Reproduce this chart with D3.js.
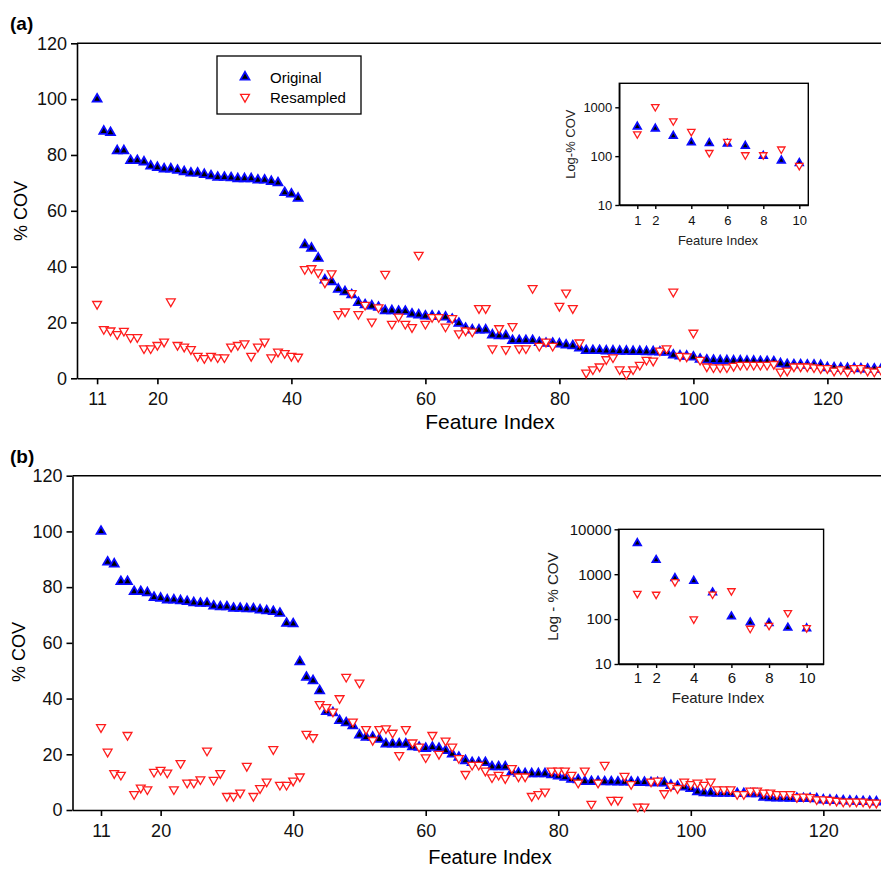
<!DOCTYPE html>
<html>
<head>
<meta charset="utf-8">
<script src="https://cdnjs.cloudflare.com/ajax/libs/d3/7.8.5/d3.min.js"></script>
<style>
  body { margin: 0; background: #fff; }
  svg { display: block; font-family: Arial, "Liberation Sans", sans-serif; }
</style>
</head>
<body>
<div id="chart"></div>
<script>
// feature index of every point in the main panels (features 1-10 are in the insets)
const features = d3.range(11, 129);

// panel (a)
const origA = [
  100, 88.5, 88, 81.5, 81.5, 78, 78, 77.5, 76, 75.5,
  75, 75, 74.5, 74, 73.5, 73.5, 73, 72.5, 72, 72,
  71.8, 71.5, 71.5, 71.5, 71, 71, 70.5, 70, 66.5, 66, 64.5,
  47.8, 46.6, 43.0, 35.2, 34.6, 31.9, 31, 29.9, 27.1, 26.3,
  25.9, 25.4, 24.2, 24.2, 24, 24, 23, 22.7, 22.3, 22.3,
  22.1, 21.9, 21.1, 19.7, 17.9, 17.3, 17.3, 17.3, 15.5, 15.2,
  15.2, 13.5, 13.5, 13.5, 13.5, 12.8, 12.5, 12.5, 12.3, 11.9,
  11.6, 10.8, 9.9, 9.9, 9.9,
  9.8, 9.8, 9.7, 9.7, 9.6, 9.6, 9.5, 9.5, 9.4, 9.3,
  8.3, 8.0, 7.9, 7.6, 6.8, 6.5, 6.4, 6.3, 6.3, 6.2,
  6.2, 6.1, 6.1, 6.0, 6.0, 5.9, 5.2, 4.9, 4.8, 4.8,
  4.7, 4.7, 4.6, 3.8, 3.7, 3.6, 3.5, 3.5, 3.4, 3.3, 3.3, 3.2
];
const resA = [
  26.6, 17.6, 17.1, 15.8, 17.0, 14.7, 14.7, 10.7, 10.7, 11.9,
  13.1, 27.5, 11.9, 11.3, 10.4, 8.0, 7.2, 8.0, 7.5, 7.5,
  11.3, 11.9, 12.5, 8.0, 11.3, 13.1, 7.5, 9.5, 9.0, 8.0, 7.7,
  39.1, 39.4, 37.9, 34.3, 37.6, 23.0, 23.9, 30.5, 23.0, 26.3,
  20.3, 25.4, 37.4, 19.5, 22.1, 19.5, 18.3, 44.2, 19.5, 21.9,
  21.9, 18.5, 21.5, 16.1, 17.1, 16.7, 25.1, 25.1, 10.7, 17.9,
  10.4, 18.7, 10.7, 10.7, 32.3, 11.6, 13.1, 11.6, 25.9, 30.7,
  25.1, 12.8, 2.0, 3.2, 4.2,
  6.8, 7.5, 3.2, 1.5, 3.2, 4.8, 6.6, 6.3, 9.9, 10.7,
  31.0, 8.0, 7.8, 16.3, 6.6, 4.2, 3.9, 3.9, 3.9, 4.4,
  4.8, 4.8, 4.8, 4.8, 4.8, 5.1, 2.4, 2.7, 4.2, 4.2,
  4.2, 3.9, 3.6, 3.6, 2.7, 3.2, 2.4, 3.6, 3.6, 2.7, 2.4, 3.0
];

// panel (b)
const origB = [
  100, 89, 88.3, 82, 82, 78.4, 78.4, 78, 76.3, 76,
  75.4, 75.4, 75.1, 74.8, 74.4, 74.2, 74.2, 73.2, 72.9, 72.9,
  72.4, 72.4, 72.2, 72.2, 71.8, 71.5, 71.2, 70.6, 67, 66.8, 53.2,
  47.6, 46.4, 42.8, 35.3, 34.9, 32.1, 31.3, 30.2, 26.9, 26.1,
  26.1, 25.4, 23.7, 23.7, 23.7, 23.7, 22.7, 22.5, 22.1, 22.5,
  22.1, 21.3, 20.1, 18.9, 17.7, 17, 17, 17, 15.5, 15.5,
  15.5, 13.7, 13.2, 13, 13, 13, 13, 12.6, 12.2, 11.7,
  11, 10.8, 10.2, 10.2, 10.2,
  10.1, 10.1, 10.0, 10.0, 10.0, 9.9, 9.9, 9.8, 9.8, 9.7,
  8.8, 8.5, 8.2, 7.7, 6.5, 6.2, 6.1, 6.0, 6.0, 6.0,
  5.9, 5.9, 5.8, 5.8, 4.6, 4.4, 4.3, 4.3, 4.2, 4.2,
  4.1, 4.1, 4.0, 3.6, 3.5, 3.4, 3.3, 3.2, 3.1, 3.0, 3.0, 2.9
];
const resB = [
  29.7, 20.9, 13.2, 12.6, 26.9, 5.7, 8.0, 7.4, 13.7, 14.4,
  13.4, 7.4, 16.8, 9.8, 9.8, 11.0, 21.3, 10.8, 13.2, 5.0,
  5.0, 6.2, 15.8, 5.0, 7.8, 10.2, 21.8, 9.0, 9.0, 10.5, 12.0,
  27.3, 26.1, 38, 36.9, 35.3, 40.1, 47.8, 31.7, 45.7, 29,
  25.1, 29, 29.3, 27.7, 19.7, 29, 24.2, 22.7, 18.9, 26.9,
  20.1, 24.9, 22.7, 18.6, 12.9, 16.2, 16.2, 14.1, 11.7, 12.6,
  11.4, 15, 12, 12, 5, 5.7, 6.6, 14.1, 14.1, 14.1,
  12.6, 9.8, 14.1, 2.2, 9.8,
  16.2, 3.6, 3.6, 12.2, 9.3, 1.2, 1.2, 10.2, 10.5, 6.0,
  8.6, 7.8, 10.2, 9.3, 9.8, 9.0, 10.2, 7.4, 7.4, 7.4,
  5.7, 5.7, 6.9, 6.9, 6.2, 6.2, 5.7, 5.7, 5.7, 4.6,
  4.8, 4.6, 3.8, 3.8, 3.6, 3.3, 3.0, 3.0, 3.0, 3.0, 2.6, 2.6
];

const mainXTicks = [11, 20, 40, 60, 80, 100, 120];
const mainYTicks = [0, 20, 40, 60, 80, 100, 120];

// insets: features 1-10 on a log scale
const insetIdx = [1, 2, 3, 4, 5, 6, 7, 8, 9, 10];
const insetOrigA = [402, 366, 260, 190, 184, 179, 162, 101, 81, 72];
const insetResA = [285, 1030, 525, 318, 118, 199, 106, 106, 139, 64];
const insetOrigB = [4900, 2070, 815, 710, 391, 114, 84, 81, 64, 62];
const insetResB = [370, 355, 675, 100, 359, 425, 62, 72, 139, 64];
const insetXTicks = [1, 2, 4, 6, 8, 10];
const insetYTicksA = [10, 100, 1000];
const insetYTicksB = [10, 100, 1000, 10000];

const W = 881, H = 869;
const BLUE = '#0a0aff', RED = '#ff1c1c';

const svg = d3.select('#chart').append('svg')
    .attr('width', W)
    .attr('height', H);

function triangle(size, down) {
    const p = d3.symbol().type(d3.symbolTriangle).size(size)();
    return down ? p.replace(/(-?\d*\.?\d+(?:e-?\d+)?),(-?\d*\.?\d+(?:e-?\d+)?)/g,
        (m, a, b) => (+a) + ',' + (-b)) : p;
}

function drawMarkers(g, xs, ys, x, y, size, down) {
    g.append('g')
        .selectAll('path')
        .data(xs.map((d, i) => ({ f: d, v: ys[i] })))
        .enter()
        .append('path')
        .attr('d', triangle(size, down))
        .attr('transform', d => `translate(${x(d.f)},${y(d.v)})`)
        .attr('fill', down ? '#fff' : '#000')
        .attr('stroke', down ? RED : BLUE)
        .attr('stroke-width', down ? 1.3 : 1.8);
}

function styleAxis(g, fontSize, width) {
    g.selectAll('text')
        .attr('font-size', fontSize)
        .attr('font-family', 'Arial, "Liberation Sans", sans-serif')
        .attr('fill', '#111');
    g.selectAll('line, path').attr('stroke', '#000').attr('stroke-width', width);
}

class MainPanel {
    constructor(cfg) {
        this.cfg = cfg;
        this.x = d3.scaleLinear().domain(cfg.xDomain).range([cfg.left, W]);
        this.y = d3.scaleLinear().domain([0, 120]).range([cfg.bottom, cfg.top]);
    }

    draw() {
        const c = this.cfg, x = this.x, y = this.y;
        const g = svg.append('g');

        g.append('line')
            .attr('x1', c.left).attr('x2', W)
            .attr('y1', c.top).attr('y2', c.top)
            .attr('stroke', '#000').attr('stroke-width', 1.6);

        const xa = g.append('g')
            .attr('transform', `translate(0,${c.bottom})`)
            .call(d3.axisBottom(x).tickValues(mainXTicks).tickSize(6).tickSizeOuter(0).tickPadding(8));
        styleAxis(xa, 18, 1.6);

        const ya = g.append('g')
            .attr('transform', `translate(${c.left},0)`)
            .call(d3.axisLeft(y).tickValues(mainYTicks).tickSize(6).tickSizeOuter(0).tickPadding(4));
        styleAxis(ya, 18, 1.6);

        drawMarkers(g, features, c.orig, x, y, 34, false);
        drawMarkers(g, features, c.res, x, y, 34, true);

        g.append('text')
            .attr('x', 10).attr('y', c.top - 13)
            .attr('font-size', 19).attr('font-weight', 'bold')
            .text(c.tag);

        g.append('text')
            .attr('transform', `translate(${c.yLabelX},${c.yLabelY}) rotate(-90)`)
            .attr('text-anchor', 'middle')
            .attr('dominant-baseline', 'central')
            .attr('font-size', 18)
            .text('% COV');

        g.append('text')
            .attr('x', 490).attr('y', c.xLabelY)
            .attr('text-anchor', 'middle')
            .attr('dominant-baseline', 'central')
            .attr('font-size', c.xLabelSize)
            .text('Feature Index');
        return g;
    }
}

class Inset {
    constructor(cfg) {
        this.cfg = cfg;
        this.x = d3.scaleLinear().domain(cfg.xDomain).range([cfg.left, cfg.right]);
        this.y = d3.scaleLog().domain(cfg.yDomain).range([cfg.bottom, cfg.top]);
    }

    draw() {
        const c = this.cfg, x = this.x, y = this.y;
        const g = svg.append('g');
        g.append('rect')
            .attr('x', c.left).attr('y', c.top)
            .attr('width', c.right - c.left).attr('height', c.bottom - c.top)
            .attr('fill', '#fff').attr('stroke', '#000').attr('stroke-width', 1.4);

        const xa = g.append('g')
            .attr('transform', `translate(0,${c.bottom})`)
            .call(d3.axisBottom(x).tickValues(insetXTicks).tickSize(4).tickSizeOuter(0).tickPadding(c.xPad));
        styleAxis(xa, c.font, 1.4);

        const ya = g.append('g')
            .attr('transform', `translate(${c.left},0)`)
            .call(d3.axisLeft(y).tickValues(c.yTicks).tickFormat(d3.format('d')).tickSize(4).tickSizeOuter(0).tickPadding(3));
        styleAxis(ya, c.font, 1.4);

        drawMarkers(g, insetIdx, c.orig, x, y, 24, false);
        drawMarkers(g, insetIdx, c.res, x, y, 24, true);

        g.append('text')
            .attr('transform', `translate(${c.yLabelX},${(c.top + c.bottom) / 2}) rotate(-90)`)
            .attr('text-anchor', 'middle')
            .attr('dominant-baseline', 'central')
            .attr('font-size', c.font)
            .attr('fill', '#222')
            .text(c.yLabel);

        g.append('text')
            .attr('x', 718).attr('y', c.xLabelY)
            .attr('text-anchor', 'middle')
            .attr('dominant-baseline', 'central')
            .attr('font-size', c.font)
            .attr('fill', '#222')
            .text('Feature Index');
    }
}

const panelA = new MainPanel({
    tag: '(a)', left: 77, top: 43.3, bottom: 378.3, xDomain: [8, 128],
    orig: origA, res: resA, yLabelX: 21, yLabelY: 211, xLabelY: 421, xLabelSize: 21
});
panelA.draw();

// legend for (a)
const legend = svg.append('g');
legend.append('rect')
    .attr('x', 217).attr('y', 56).attr('width', 144).attr('height', 58)
    .attr('fill', '#fff').attr('stroke', '#000').attr('stroke-width', 1.3);
[['Original', false, 77], ['Resampled', true, 97]].forEach(([name, down, ly]) => {
    legend.append('path')
        .attr('d', triangle(34, down))
        .attr('transform', `translate(245,${ly})`)
        .attr('fill', down ? '#fff' : '#000')
        .attr('stroke', down ? RED : BLUE)
        .attr('stroke-width', down ? 1.3 : 1.8);
    legend.append('text')
        .attr('x', 270).attr('y', ly)
        .attr('dominant-baseline', 'central')
        .attr('font-size', 15)
        .text(name);
});

new Inset({
    left: 619.3, right: 808.3, top: 83.3, bottom: 205, xDomain: [0, 10.5], yDomain: [10, 3100],
    yTicks: insetYTicksA, orig: insetOrigA, res: insetResA, font: 13, xPad: 7,
    yLabel: 'Log-% COV', yLabelX: 570, xLabelY: 240
}).draw();

const panelB = new MainPanel({
    tag: '(b)', left: 72.5, top: 475.7, bottom: 810, xDomain: [6.7, 128.7],
    orig: origB, res: resB, yLabelX: 19, yLabelY: 652, xLabelY: 857, xLabelSize: 20
});
panelB.draw();

new Inset({
    left: 618.5, right: 823.6, top: 529.3, bottom: 664, xDomain: [0, 10.9], yDomain: [10, 10000],
    yTicks: insetYTicksB, orig: insetOrigB, res: insetResB, font: 15, xPad: 4,
    yLabel: 'Log - % COV', yLabelX: 552, xLabelY: 697
}).draw();
</script>
</body>
</html>
